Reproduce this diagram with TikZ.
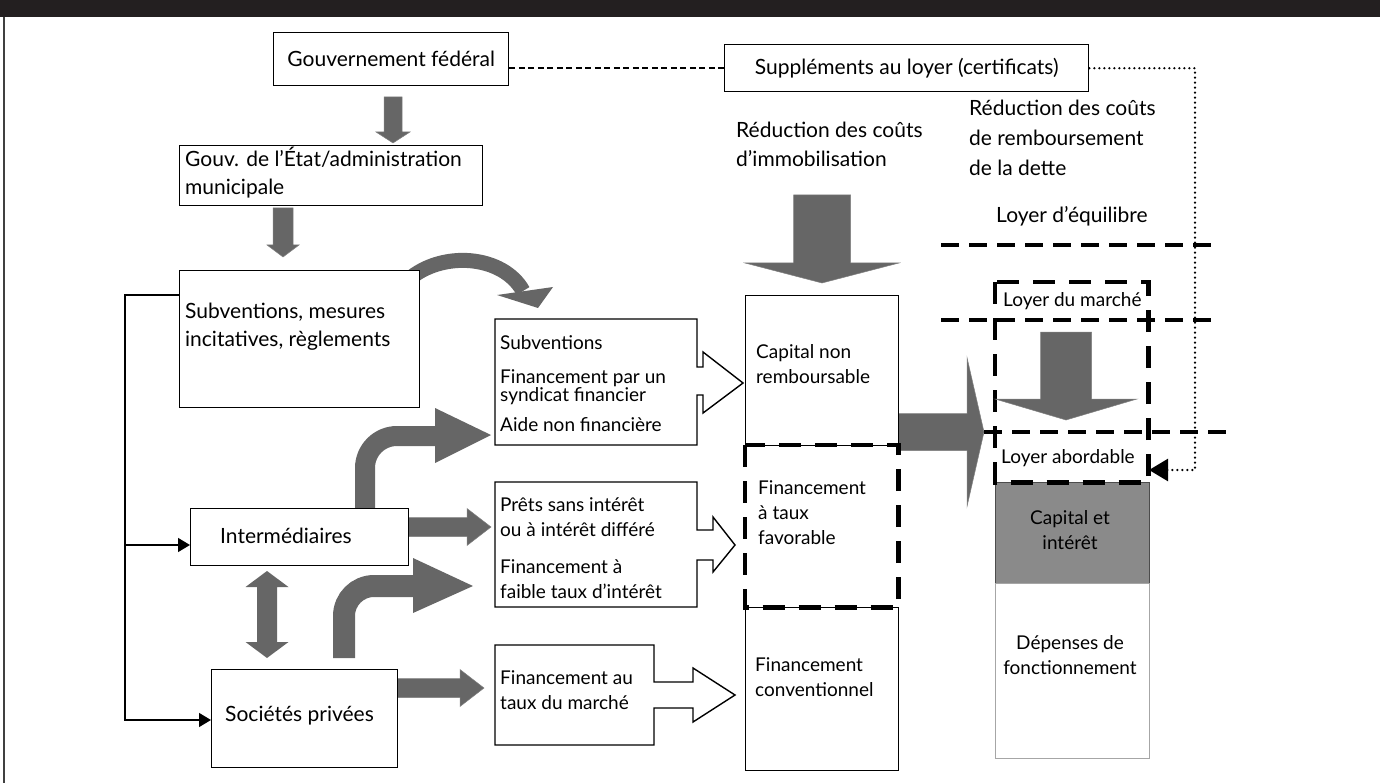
\documentclass[tikz,border=0pt]{standalone}
\usepackage{fontspec}
\setmainfont{Lato}
\usetikzlibrary{calc,arrows.meta}
\definecolor{arrgray}{HTML}{666666}
\definecolor{capgray}{HTML}{8A8A8A}
\definecolor{hdr}{HTML}{231F20}
\newcommand{\fbig}{\fontsize{21}{29}\selectfont}
\newcommand{\fmed}{\fontsize{19}{25}\selectfont}
\newcommand{\blockarrow}[5]{%
  \coordinate (bac) at ($(#2)!#5!(#1)$);
  \filldraw[fill=arrgray, draw=black!50, line width=.5pt] ($(#1)!#3!90:(#2)$) -- ($(bac)!#3!90:(#2)$) -- ($(bac)!#4!90:(#2)$) -- (#2) -- ($(bac)!#4!-90:(#2)$) -- ($(bac)!#3!-90:(#2)$) -- ($(#1)!#3!-90:(#2)$) -- cycle;}
\newcommand{\dblockarrow}[5]{%
  \coordinate (dbc1) at ($(#1)!#5!(#2)$);
  \coordinate (dbc2) at ($(#2)!#5!(#1)$);
  \fill[arrgray] (#1) -- ($(dbc1)!#4!90:(#2)$) -- ($(dbc1)!#3!90:(#2)$) -- ($(dbc2)!#3!90:(#2)$) -- ($(dbc2)!#4!90:(#2)$) -- (#2) -- ($(dbc2)!#4!-90:(#2)$) -- ($(dbc2)!#3!-90:(#2)$) -- ($(dbc1)!#3!-90:(#2)$) -- ($(dbc1)!#4!-90:(#2)$) -- cycle;}
\begin{document}
\begin{tikzpicture}[x=1pt,y=-1pt,
 bx/.style={draw=black, line width=1.4pt, inner sep=0pt, anchor=north west, fill=white},
 tl/.style={inner sep=0pt, anchor=base west, align=left},
 tc/.style={inner sep=0pt, anchor=base, align=center},
 linedash/.style={line width=4pt, dash pattern=on 18pt off 10pt},
 rectdash/.style={line width=4.5pt, dash pattern=on 22pt off 14pt},
 dotline/.style={line width=2.5pt, line cap=round, dash pattern=on 0pt off 5pt},
 gsdash/.style={line width=2.5pt, dash pattern=on 6pt off 3.5pt},
 thinarr/.style={line width=1.4pt, -{Triangle[length=12pt,width=14pt]}},
 callout/.style={draw=black, line width=1.4pt, fill=white},
]
\useasboundingbox (0,0) rectangle (1380,783);
% header and frame
\fill[hdr] (0,0) rectangle (1380,17);
\draw[line width=1.2pt, black!75] (4,17) -- (4,783);

% ---------- gray arrows (drawn below boxes)
\coordinate (a1s) at (393,97);  \coordinate (a1e) at (393,143);
\blockarrow{a1s}{a1e}{9pt}{17pt}{11pt}
\coordinate (a2s) at (283,208); \coordinate (a2e) at (283,257);
\blockarrow{a2s}{a2e}{10pt}{16pt}{12pt}
\coordinate (a3s) at (822,195); \coordinate (a3e) at (822,283);
\blockarrow{a3s}{a3e}{28.5pt}{77pt}{20pt}
\coordinate (a5s) at (898,432); \coordinate (a5e) at (984,432);
\blockarrow{a5s}{a5e}{18.5pt}{74.5pt}{17pt}
\coordinate (a6s) at (408,527); \coordinate (a6e) at (491,527);
\blockarrow{a6s}{a6e}{9.5pt}{18.5pt}{24pt}
\coordinate (a7s) at (397,688); \coordinate (a7e) at (484,688);
\blockarrow{a7s}{a7e}{9.5pt}{18.5pt}{24pt}
\coordinate (da1) at (267,571); \coordinate (da2) at (267,658);
\dblockarrow{da1}{da2}{10pt}{21.5pt}{16pt}
% curved arrows
\coordinate (c1s) at (408,280); \coordinate (c1e) at (523,291);
\draw[arrgray, line width=15pt] (c1s) .. controls (442,250) and (503,255) .. (c1e);
\fill[arrgray] (497,295) -- (553,287) -- (538,308) -- cycle;
\coordinate (c2s) at (365,508); \coordinate (c2e) at (437,436);
\draw[arrgray, line width=20pt, rounded corners=32pt] (c2s) |- (c2e);
\fill[arrgray] (435,408) -- (491,435) -- (435,463) -- cycle;
\coordinate (c3s) at (344,658); \coordinate (c3e) at (415,586);
\draw[arrgray, line width=22pt, rounded corners=30pt] (c3s) |- (c3e);
\fill[arrgray] (413,558) -- (473,586) -- (413,613) -- cycle;

% ---------- left column
\node[bx, minimum width=235pt, minimum height=53pt, font=\fbig] (gf) at (273,32) {Gouvernement fédéral};
\node[bx, minimum width=364pt, minimum height=47pt, font=\fbig] (supp) at (724,44) {Suppléments au loyer (certificats)};
\node[bx, minimum width=303pt, minimum height=60pt] (etat) at (179,145) {};
\node[tl, font=\fbig] (etatt) at (185,195) {Gouv. de l’État/administration\\[-1pt]municipale};
\node[bx, minimum width=240pt, minimum height=137pt] (subv) at (179,270) {};
\node[tl, font=\fbig] (subvt) at (185,346) {Subventions, mesures\\[-1pt]incitatives, règlements};
\node[bx, minimum width=218pt, minimum height=57pt] (inter) at (190,508) {};
\node[tl, font=\fbig] (intert) at (220,543) {Intermédiaires};
\node[bx, minimum width=186pt, minimum height=98pt] (soc) at (211,669) {};
\node[tl, font=\fbig] (soct) at (225,721) {Sociétés privées};

% feedback line
\coordinate (fb) at (179,295);
\coordinate (fbc) at (125,295);
\coordinate (fbi) at (190,545);
\coordinate (fbs) at (211,720);
\draw[thinarr] (fb) -- (fbc) |- (fbs);
\draw[thinarr] (fbc |- fbi) -- (fbi);

% top dashed / dotted
\draw[gsdash] (gf.east |- supp.west) -- (supp.west);
\coordinate (dcorner) at (1195,470);
\coordinate (dtip) at (1149,470);
\draw[dotline] (supp.east) -| (dcorner) -- ($(dtip)+(14,0)$);
\draw[line width=2.5pt, -{Triangle[length=19pt,width=22pt]}] ($(dtip)+(15,0)$) -- (dtip);

% ---------- callouts
\draw[callout] (495,319) -- (697,319) -- (697,367) -- (703,367) -- (703,352) -- (743,383) -- (703,413) -- (703,395) -- (697,395) -- (697,445) -- (495,445) -- cycle;
\node[tl, font=\fmed] (sl1) at (500,349) {Subventions};
\node[tl, font=\fmed] (sl2) at (500,383) {Financement par un};
\node[tl, font=\fmed] (sl3) at (500,401) {syndicat financier};
\node[tl, font=\fmed] (sl4) at (500,431) {Aide non financière};
\draw[callout] (495,482) -- (697,482) -- (697,530) -- (713,530) -- (713,517) -- (735,545) -- (713,572) -- (713,560) -- (697,560) -- (697,607) -- (495,607) -- cycle;
\node[tl, font=\fmed] (p1) at (500,536) {Prêts sans intérêt\\ou à intérêt différé};
\node[tl, font=\fmed] (p2) at (500,598) {Financement à\\faible taux d’intérêt};
\draw[callout] (495,645) -- (654,645) -- (654,682) -- (693,682) -- (693,668) -- (735,695) -- (693,722) -- (693,708) -- (654,708) -- (654,745) -- (495,745) -- cycle;
\node[tl, font=\fmed] (fm) at (500,709) {Financement au\\taux du marché};

% ---------- middle column
\node[tl, font=\fbig] (red1) at (736,167) {Réduction des coûts\\d’immobilisation};
\node[bx, minimum width=153pt, minimum height=150pt] (cap) at (745,295) {};
\node[tl, font=\fmed] (capt) at (756,383) {Capital non\\remboursable};
\node[bx, minimum width=153pt, minimum height=163pt] (conv) at (745,607) {};
\node[tl, font=\fmed] (convt) at (755,696) {Financement\\conventionnel};
\node[inner sep=0pt, anchor=north west, minimum width=153pt, minimum height=162pt] (fav) at (745,445) {};
\draw[rectdash] (fav.north west) rectangle (fav.south east);
\node[tl, font=\fmed] (favt) at (758,544) {Financement\\à taux\\favorable};

% ---------- right column
\node[tl, font=\fbig] (red2) at (969,176) {Réduction des coûts\\[1pt]de remboursement\\[1pt]de la dette};
\node[tl, font=\fbig] (equil) at (996,223) {Loyer d’équilibre};
\node[draw=black!70, line width=1pt, fill=capgray, inner sep=0pt, anchor=north west, minimum width=154pt, minimum height=101pt] (ci) at (995,482) {};
\node[tc, font=\fmed] (cit) at (1070,549) {Capital et\\intérêt};
\node[draw=black!35, line width=1.2pt, inner sep=0pt, anchor=north west, minimum width=154pt, minimum height=175pt] (dep) at (995,583) {};
\node[tc, font=\fmed] (dept) at (1070,674) {Dépenses de\\fonctionnement};
\node[inner sep=0pt, anchor=north west, minimum width=153pt, minimum height=200pt] (rent) at (995,282) {};
\draw[rectdash] (rent.north west) rectangle (rent.south east);
\coordinate (l1s) at (941,245); \coordinate (l1e) at (1214,245);
\coordinate (l2s) at (941,320); \coordinate (l2e) at (1214,320);
\coordinate (l3s) at (984,432); \coordinate (l3e) at (1233,432);
\draw[linedash] (l1s) -- (l1e);
\draw[linedash] (l2s) -- (l2e);
\draw[linedash] (l3s) -- (l3e);
\coordinate (a4s) at (1066,332); \coordinate (a4e) at (1066,420);
\blockarrow{a4s}{a4e}{25.5pt}{71pt}{21pt}
\node[tl, font=\fmed] (marche) at (1003,306) {Loyer du marché};
\node[tl, font=\fmed] (abord) at (1001,463) {Loyer abordable};
\end{tikzpicture}
\end{document}
